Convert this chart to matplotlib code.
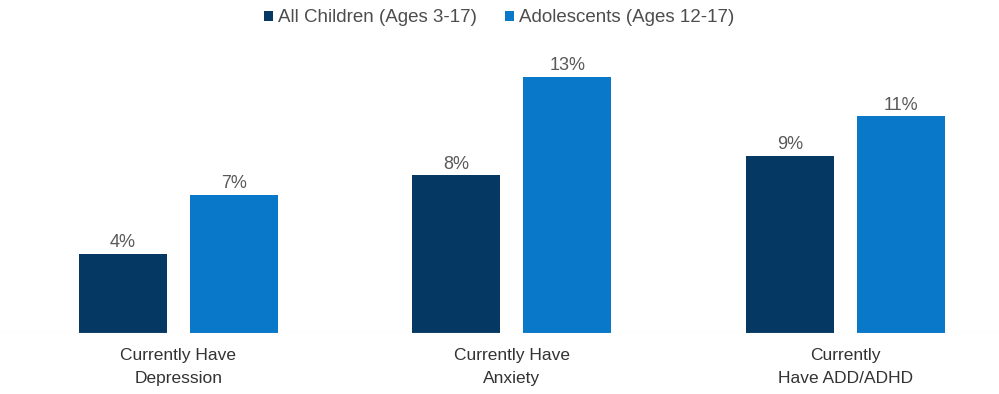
import matplotlib
matplotlib.use('Agg')
import matplotlib.pyplot as plt
import numpy as np

plt.rcParams['font.family'] = ['Liberation Sans', 'DejaVu Sans']

categories = ['Currently Have\nDepression', 'Currently Have\nAnxiety', 'Currently\nHave ADD/ADHD']
series_names = ['All Children (Ages 3-17)', 'Adolescents (Ages 12-17)']
all_children = [4, 8, 9]
adolescents = [7, 13, 11]

dark = '#053963'
light = '#0a78c8'

fig = plt.figure(figsize=(9.99, 3.94), dpi=100)
# axes spans the full width; bottom sits on the category baseline
ax = fig.add_axes([0, 61 / 394, 1, 333 / 394])
ax.set_xlim(-0.535, 2.461)
ax.set_ylim(0, 333 / 19.7)

x = np.arange(len(categories))
w = 0.264
off = (w + 23 / 333.5) / 2

b1 = ax.bar(x - off, all_children, w, color=dark, label=series_names[0])
b2 = ax.bar(x + off, adolescents, w, color=light, label=series_names[1])

for bars, vals in ((b1, all_children), (b2, adolescents)):
    for r, v in zip(bars, vals):
        ax.annotate(f'{v}%', (r.get_x() + r.get_width() / 2, v),
                    xytext=(0, 2), textcoords='offset points',
                    ha='center', va='bottom', fontsize=13, color='#595959')

for xi, lab in zip(x, categories):
    ax.text(xi, -0.75, lab, ha='center', va='top', fontsize=12.5,
            color='#333333', linespacing=1.65)

ax.axhline(0, color='#e3ddd6', lw=0.8)
for s in ax.spines.values():
    s.set_visible(False)
ax.set_xticks([])
ax.set_yticks([])

fig.legend(handles=[b1, b2], labels=series_names, loc='center',
           bbox_to_anchor=(0.5, 1 - 18 / 394), ncol=2, frameon=False,
           fontsize=13.5, handlelength=0.45, handleheight=0.45,
           handletextpad=0.3, columnspacing=1.5, labelcolor='#4d4d4d')

fig.savefig('out.png', dpi=100, facecolor='white')
